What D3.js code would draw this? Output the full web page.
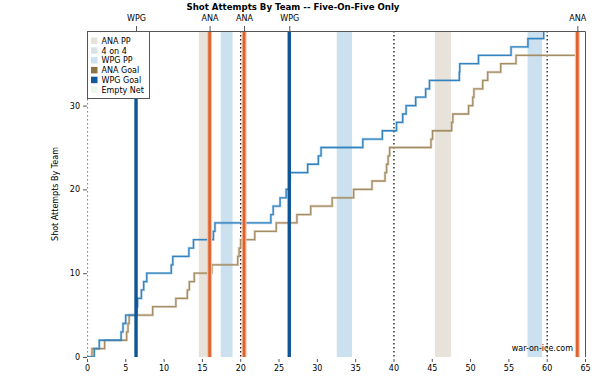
<!DOCTYPE html>
<html>
<head>
<meta charset="utf-8">
<script src="https://cdn.jsdelivr.net/npm/d3@7"></script>
<style>
  body { margin: 0; background: #fff; }
  text { font-family: "DejaVu Sans", sans-serif; fill: #000; }
</style>
</head>
<body>
<div id="chart"></div>
<script>
// --- Data ---
// shot attempt times (minutes), one entry per attempt
const wpgShotTimes = [0.95, 1.6, 4.45, 4.7, 5.05, 6.5, 6.6, 7.1, 7.4, 7.8,
  11.0, 11.2, 13.3, 13.9, 16.5, 16.7, 24.0, 24.3, 25.2, 26.0,
  26.4, 26.5, 28.8, 30.2, 30.55, 36.0, 38.55, 40.4, 41.2, 41.65,
  42.9, 44.2, 44.7, 48.6, 48.65, 51.1, 55.35, 57.55, 59.6];
const anaShotTimes = [0.65, 2.3, 5.17, 5.35, 5.5, 8.57, 11.6, 13.1, 13.36, 14.0,
  16.3, 19.67, 19.85, 20.05, 21.9, 24.7, 27.4, 29.2, 32.0, 34.8,
  37.2, 38.9, 39.1, 39.3, 39.5, 44.9, 45.1, 47.6, 47.75, 49.8,
  50.35, 50.5, 51.65, 52.3, 54.0, 56.0];
const gameEnd = 64.0;

const goalTeams = ["WPG", "ANA", "ANA", "WPG", "ANA"];
const goalTimes = [6.4, 16.0, 20.5, 26.4, 64.0];

const anaPP = [[14.6, 16.0], [45.4, 47.5]];
const wpgPP = [[17.45, 19.0], [32.6, 34.6], [57.5, 59.4]];
const periodLines = [0, 20, 40, 60];

const xTicks = [0, 5, 10, 15, 20, 25, 30, 35, 40, 45, 50, 55, 60, 65];
const yTicks = [0, 10, 20, 30];

const legendLabels = ["ANA PP", "4 on 4", "WPG PP", "ANA Goal", "WPG Goal", "Empty Net"];
const legendColors = ["#e8e3da", "#dae1e7", "#cce1ef", "#8c7346", "#10599a", "#eaf8ea"];

// --- Sizes ---
const W = 600, H = 376;
const margin = { top: 31, left: 87, right: 15, bottom: 19 };
const width = W - margin.left - margin.right;
const height = H - margin.top - margin.bottom;

const svg = d3.select("#chart").append("svg")
  .attr("width", W)
  .attr("height", H);

// --- Scales ---
const x = d3.scaleLinear().domain([0, 65]).range([0, width]);
const y = d3.scaleLinear().domain([0, height / 8.38]).range([height, 0]);

const chart = svg.append("g")
  .attr("transform", `translate(${margin.left}, ${margin.top})`);

chart.append("clipPath").attr("id", "clip")
  .append("rect").attr("width", width).attr("height", height);

const plot = chart.append("g").attr("clip-path", "url(#clip)");

// --- Power play bands ---
plot.selectAll("rect.anapp").data(anaPP).enter().append("rect")
  .attr("class", "anapp")
  .attr("x", d => x(d[0]))
  .attr("width", d => x(d[1]) - x(d[0]))
  .attr("y", 0).attr("height", height)
  .attr("fill", legendColors[0]);

plot.selectAll("rect.wpgpp").data(wpgPP).enter().append("rect")
  .attr("class", "wpgpp")
  .attr("x", d => x(d[0]))
  .attr("width", d => x(d[1]) - x(d[0]))
  .attr("y", 0).attr("height", height)
  .attr("fill", legendColors[2]);

// --- Period lines ---
plot.selectAll("line.period").data(periodLines).enter().append("line")
  .attr("class", "period")
  .attr("x1", d => x(d) + 0.5).attr("x2", d => x(d) + 0.5)
  .attr("y1", 0).attr("y2", height)
  .attr("stroke", d => d === 0 ? "#888" : "#000")
  .attr("stroke-width", 1.2)
  .attr("stroke-dasharray", "1.5,2.5");

// --- Cumulative step lines ---
const toSteps = times => [[0, 0]].concat(times.map((t, i) => [t, i + 1]))
  .concat([[gameEnd, times.length]]);

const line = d3.line()
  .x(d => x(d[0]))
  .y(d => y(d[1]))
  .curve(d3.curveStepAfter);

const series = [
  { pts: toSteps(anaShotTimes), color: "#a58d63" },
  { pts: toSteps(wpgShotTimes), color: "#3383c0" }
];

series.forEach(s => {
  plot.append("path").datum(s.pts)
    .attr("d", line).attr("fill", "none")
    .attr("stroke", s.color).attr("stroke-opacity", 0.35)
    .attr("stroke-width", 2.6);
  plot.append("path").datum(s.pts)
    .attr("d", line).attr("fill", "none")
    .attr("stroke", s.color)
    .attr("stroke-width", 1.3);
});

// --- Goal lines ---
const goals = goalTimes.map((t, i) => ({ t: t, team: goalTeams[i] }));

plot.selectAll("line.goalhalo").data(goals.filter(d => d.team === "ANA")).enter().append("line")
  .attr("class", "goalhalo")
  .attr("x1", d => x(d.t)).attr("x2", d => x(d.t))
  .attr("y1", 0).attr("y2", height)
  .attr("stroke", "#f6c0a6").attr("stroke-width", 5);

plot.selectAll("line.goal").data(goals).enter().append("line")
  .attr("class", "goal")
  .attr("x1", d => x(d.t)).attr("x2", d => x(d.t))
  .attr("y1", 0).attr("y2", height)
  .attr("stroke", d => d.team === "ANA" ? "#e0602c" : "#0e5595")
  .attr("stroke-width", d => d.team === "ANA" ? 2.6 : 3.4);

// --- Frame (top + right) ---
chart.append("path")
  .attr("d", `M0,0.5H${width + 0.5}V${height}`)
  .attr("fill", "none").attr("stroke", "#555").attr("stroke-width", 1);

// --- Axes ---
const xAxis = chart.append("g")
  .attr("transform", `translate(0, ${height + 2})`)
  .call(d3.axisBottom(x).tickValues(xTicks).tickSize(3).tickPadding(3));

const yAxis = chart.append("g")
  .call(d3.axisLeft(y).tickValues(yTicks).tickSize(4).tickPadding(3));

const topAxis = chart.append("g")
  .call(d3.axisTop(x).tickValues(goalTimes).tickSize(5).tickPadding(5)
    .tickFormat((d, i) => goalTeams[i]));

[xAxis, yAxis, topAxis].forEach(a => {
  a.select(".domain").remove();
  a.selectAll("line").attr("stroke", "#555");
  a.selectAll("text").style("font-size", "8px").attr("fill", "#000");
});

// --- Labels ---
svg.append("text")
  .attr("x", 293).attr("y", 10)
  .attr("text-anchor", "middle")
  .style("font-size", "8.6px").style("font-weight", "bold")
  .text("Shot Attempts By Team -- Five-On-Five Only");

svg.append("text")
  .attr("transform", `translate(58, ${margin.top + height / 2}) rotate(-90)`)
  .attr("text-anchor", "middle")
  .style("font-size", "8px")
  .text("Shot Attempts By Team");

svg.append("text")
  .attr("x", 573).attr("y", 351)
  .attr("text-anchor", "end")
  .style("font-size", "8px")
  .text("war-on-ice.com");

// --- Legend ---
const legend = chart.append("g");

legend.append("rect")
  .attr("x", 0.5).attr("y", 0.5)
  .attr("width", 62).attr("height", 67)
  .attr("fill", "#fff").attr("stroke", "#555");

const items = legend.selectAll("g.item")
  .data(legendLabels).enter().append("g")
  .attr("class", "item")
  .attr("transform", (d, i) => `translate(4, ${6.5 + i * 9.8})`);

items.append("rect")
  .attr("width", 6.5).attr("height", 6.5)
  .attr("fill", (d, i) => legendColors[i]);

items.append("text")
  .attr("x", 10.5).attr("y", 6.3)
  .style("font-size", "8px")
  .text(d => d);
</script>
</body>
</html>
